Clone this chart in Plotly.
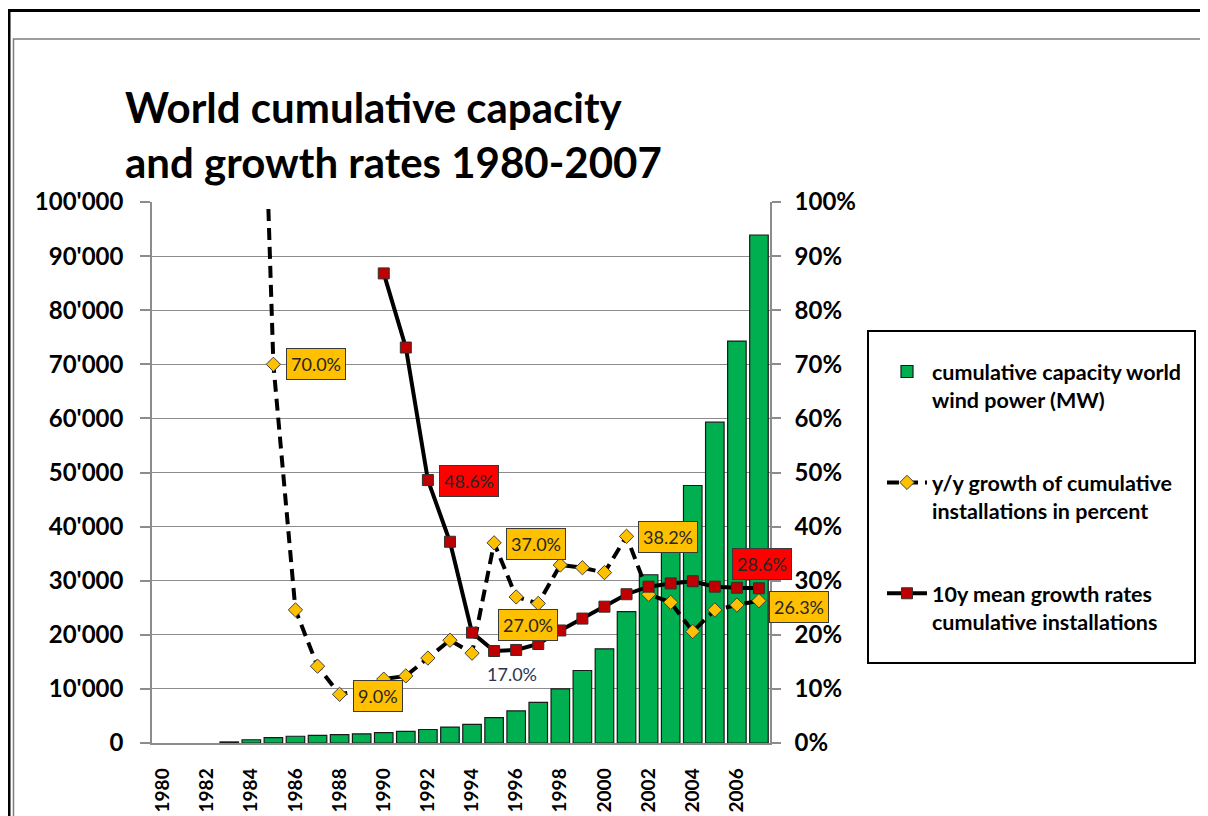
import plotly.graph_objects as go

# ---------------- data ----------------
years = list(range(1980, 2008))
capacity_mw = [None, None, None, 200, 600, 1000, 1250, 1400, 1550, 1700,
               1900, 2150, 2500, 2950, 3450, 4700, 5950, 7500, 10000, 13400,
               17400, 24300, 31100, 39400, 47600, 59300, 74300, 93900]
yoy_growth = [None, None, None, None, 1.97, 0.700, 0.246, 0.142, 0.090, 0.097,
              0.118, 0.124, 0.157, 0.190, 0.166, 0.370, 0.270, 0.258, 0.329, 0.324,
              0.315, 0.382, 0.275, 0.260, 0.206, 0.246, 0.255, 0.263]
mean10_growth = [None] * 10 + [0.868, 0.731, 0.486, 0.372, 0.204, 0.170, 0.172, 0.183,
                               0.208, 0.230, 0.252, 0.275, 0.289, 0.295, 0.299, 0.289,
                               0.287, 0.286]
left_tick_vals = [0, 10000, 20000, 30000, 40000, 50000, 60000, 70000, 80000, 90000, 100000]
left_tick_text = ["0", "10'000", "20'000", "30'000", "40'000", "50'000",
                  "60'000", "70'000", "80'000", "90'000", "100'000"]
x_tick_years = list(range(1980, 2008, 2))

series_names = ["cumulative capacity world<br>wind power (MW)",
                "y/y growth of cumulative<br>installations in percent",
                "10y mean growth rates<br>cumulative installations"]
title_text = "World cumulative capacity<br>and growth rates 1980-2007"

# data labels: (series, year, text, style, xshift, yshift)
labels = [
    ("yoy", 1985, "70.0%", "yellow", 43, 0),
    ("yoy", 1988, "9.0%", "yellow", 38, -2),
    ("yoy", 1995, "37.0%", "yellow", 42, -1),
    ("yoy", 1996, "27.0%", "yellow", 12, -28),
    ("yoy", 2001, "38.2%", "yellow", 41, -1),
    ("yoy", 2007, "26.3%", "yellow", 40, -6),
    ("mean", 1992, "48.6%", "red", 41, -1),
    ("mean", 2007, "28.6%", "red", 3, 24),
    ("mean", 1995, "17.0%", "plain", 18, -23),
]

# ---------------- layout geometry (figure pixels; page has an 8px body margin) ----------------
OFF = 8
W, H = 1200, 808
PL, PR, PT, PB = 152 - OFF, 770 - OFF, 202 - OFF, 743 - OFF


def px_x(page_px):
    return (page_px - OFF - PL) / (PR - PL)


def px_y(page_py):
    return (PB - (page_py - OFF)) / (PB - PT)


FONT = "Lato, 'Open Sans', 'DejaVu Sans', sans-serif"
GRID = "#8c8c8c"

fig = go.Figure()

fig.add_trace(go.Bar(
    x=years, y=capacity_mw, name=series_names[0], legendgroup="g1",
    marker=dict(color="#00B050", line=dict(color="#1a1a1a", width=1.2)),
    width=0.84, yaxis="y",
))
fig.add_trace(go.Scatter(
    x=years, y=yoy_growth, name=series_names[1], legendgroup="g2",
    mode="lines+markers", yaxis="y2",
    line=dict(color="black", width=4, dash="12px,7px"),
    marker=dict(symbol="diamond", size=11, color="#FFC000",
                line=dict(color="#404040", width=1)),
))
fig.add_trace(go.Scatter(
    x=years, y=mean10_growth, name=series_names[2], legendgroup="g3",
    mode="lines+markers", yaxis="y2",
    line=dict(color="black", width=4),
    marker=dict(symbol="square", size=11, color="#C00000",
                line=dict(color="#303030", width=1)),
))

annotations = []
for series, yr, txt, style, xs, ys in labels:
    idx = years.index(yr)
    val = yoy_growth[idx] if series == "yoy" else mean10_growth[idx]
    a = dict(x=yr, y=val, xref="x", yref="y2", text=txt, showarrow=False,
             xshift=xs, yshift=ys, font=dict(family=FONT, size=18, color="#262626"))
    if style == "yellow":
        a.update(bgcolor="#FFC000", bordercolor="#3a3a3a", borderwidth=1, borderpad=4)
    elif style == "red":
        a.update(bgcolor="#FF0000", bordercolor="#3a3a3a", borderwidth=1, borderpad=4)
    else:
        a["font"] = dict(family=FONT, size=18, color="#2b3550")
    annotations.append(a)

shapes = [
    # outer black frame
    dict(type="rect", xref="paper", yref="paper",
         x0=px_x(9), x1=px_x(1225), y0=px_y(10.5), y1=px_y(840),
         line=dict(color="black", width=3), fillcolor="rgba(0,0,0,0)", layer="below"),
    # inner gray frame
    dict(type="rect", xref="paper", yref="paper",
         x0=px_x(13.5), x1=px_x(1203.5), y0=px_y(39), y1=px_y(840),
         line=dict(color="#7f7f7f", width=1.5), fillcolor="rgba(0,0,0,0)", layer="below"),
    # legend box
    dict(type="rect", xref="paper", yref="paper",
         x0=px_x(868), x1=px_x(1195), y0=px_y(331), y1=px_y(663),
         line=dict(color="black", width=2), fillcolor="white", layer="below"),
]

fig.update_layout(
    width=W, height=H,
    margin=dict(l=PL, r=W - PR, t=PT, b=H - PB, autoexpand=False),
    paper_bgcolor="white", plot_bgcolor="white",
    font=dict(family=FONT, color="black"),
    title=dict(text=title_text, x=117 / W, xanchor="left", xref="container",
               y=1 - 115 / H, yanchor="top", yref="container",
               font=dict(family=FONT, size=42, weight="bold", color="black")),
    bargap=0.16,
    showlegend=True,
    legend=dict(x=px_x(882), y=px_y(351), xanchor="left", yanchor="top",
                borderwidth=0, bgcolor="rgba(0,0,0,0)",
                font=dict(family=FONT, size=21.5, weight="bold", color="black"),
                tracegroupgap=52, itemwidth=40, valign="top",
                traceorder="grouped"),
    xaxis=dict(range=[1979.5, 2007.5], tickvals=x_tick_years,
               ticktext=[str(y) for y in x_tick_years], tickangle=-90,
               showline=True, linecolor=GRID, linewidth=1.5, ticks="",
               showgrid=False, zeroline=False, automargin=False,
               ticklabelstandoff=16,
               tickfont=dict(family=FONT, size=19, weight="bold", color="black")),
    yaxis=dict(range=[0, 100000], tickvals=left_tick_vals, ticktext=left_tick_text,
               showline=True, linecolor=GRID, linewidth=1.5,
               ticks="outside", ticklen=10, tickcolor=GRID, tickwidth=1.5,
               showgrid=True, gridcolor=GRID, gridwidth=1, zeroline=False,
               automargin=False, ticklabelstandoff=12,
               tickfont=dict(family=FONT, size=24, weight="bold", color="black")),
    yaxis2=dict(range=[0, 1], overlaying="y", side="right", tickformat=".0%",
                dtick=0.1, tick0=0, showline=True, linecolor=GRID, linewidth=1.5,
                ticks="outside", ticklen=9, tickcolor=GRID, tickwidth=1.5,
                showgrid=False, zeroline=False, automargin=False,
                ticklabelstandoff=9,
                tickfont=dict(family=FONT, size=24, weight="bold", color="black")),
    annotations=annotations,
    shapes=shapes,
)

fig.write_html("out.html")
